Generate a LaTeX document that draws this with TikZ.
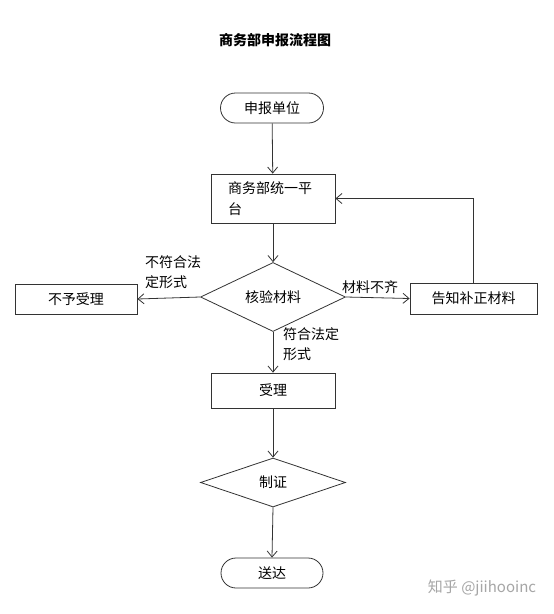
\documentclass[tikz,border=0pt]{standalone}
\usepackage{fontspec}
\setmainfont{Noto Sans CJK SC}
\usetikzlibrary{arrows.meta,shapes.geometric}
\tikzset{
  line/.style={draw=black!80, line width=0.8pt},
  arr/.style={line, -{Straight Barb[length=6pt,width=10pt,line width=0.8pt]}},
  txt/.style={font=\fontsize{14}{20.5}\selectfont, text=black},
  term/.style={line, txt, rounded corners=15pt, minimum width=103pt, minimum height=30pt, inner sep=0pt},
  proc/.style={line, txt, minimum width=124pt, minimum height=35pt, inner sep=0pt},
  deci/.style={line, txt, diamond, minimum width=145pt, minimum height=50pt, inner sep=0pt},
  lbl/.style={txt, align=left, inner sep=0pt, anchor=north west},
}
\begin{document}
\begin{tikzpicture}[x=1pt,y=-1pt]
\useasboundingbox[fill=white] (0,0) rectangle (554,614);
\node[txt, font=\fontsize{14}{16}\selectfont\bfseries] (title) at (275,40) {商务部申报流程图};
\node[term] (t1) at (272,108) {申报单位};
\node[line, txt, minimum height=49pt, text width=90pt, inner xsep=17pt, inner ysep=0pt, align=left] (b1) at (273,198.5) {商务部统一平\\台};
\node[deci] (d1) at (273,297) {核验材料};
\node[proc, minimum width=122pt, minimum height=30pt] (no) at (76,299) {不予受理};
\node[proc, minimum width=127pt, minimum height=31pt] (fix) at (473.5,298.5) {告知补正材料};
\node[proc] (acc) at (273,390.5) {受理};
\node[deci, minimum height=49pt] (d2) at (273,482.5) {制证};
\node[term, minimum width=102pt] (t2) at (272,573) {送达};
\node[lbl] (l1) at (145,255) {不符合法\\定形式};
\node[txt, inner sep=0pt] (l2) at (370,287) {材料不齐};
\node[lbl] (l3) at (283,327) {符合法定\\形式};
\node[font=\fontsize{15}{17}\selectfont, text=black!35] (wm) at (482,588) {知乎 @jiihooinc};
\draw[arr] (t1) -- (b1);
\draw[arr] (b1) -- (d1);
\draw[arr] (d1.west) -- (no.east);
\draw[arr] (d1.east) -- (fix.west);
\draw[arr] (fix.north) |- (b1.east);
\draw[arr] (d1.south) -- (acc.north);
\draw[arr] (acc) -- (d2);
\draw[arr] (d2.south) -- (t2.north);
\end{tikzpicture}
\end{document}
